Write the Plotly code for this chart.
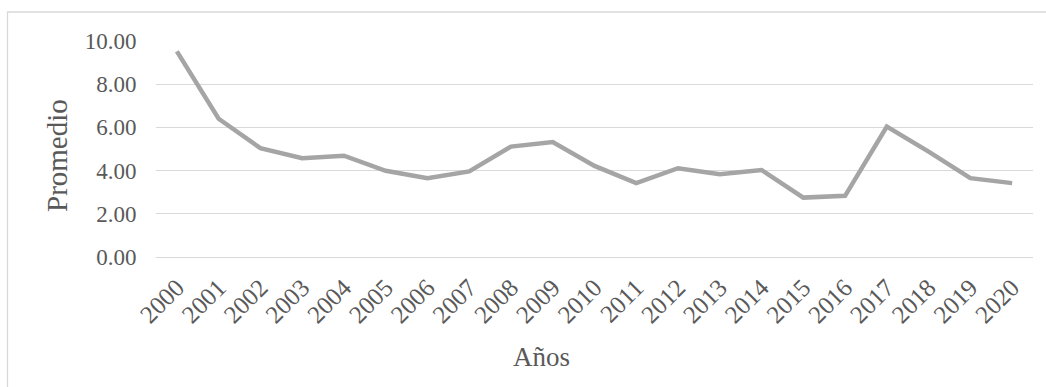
import plotly.graph_objects as go

# Promedio anual, 2000-2020
years = [str(y) for y in range(2000, 2021)]
promedio = [9.52, 6.40, 5.04, 4.57, 4.69, 3.99, 3.65, 3.96, 5.11, 5.32,
            4.22, 3.42, 4.11, 3.83, 4.03, 2.75, 2.83, 6.04, 4.88, 3.65, 3.42]
y_ticks = [0, 2, 4, 6, 8, 10]

W, H = 1046, 387
ML, MR, MT, MB = 156, 13, 41, 130
PW, PH = W - ML - MR, H - MT - MB


def px(x):
    return (x - ML) / PW


def py(y):
    return (H - MB - y) / PH


FONT = "Liberation Serif, Times New Roman, serif"
TXT = "#595959"
GRID = "#D9D9D9"

fig = go.Figure(
    go.Scatter(
        x=years,
        y=promedio,
        mode="lines",
        line=dict(color="#A5A5A5", width=4.5),
        hoverinfo="x+y",
    )
)

fig.update_layout(
    width=W,
    height=H,
    margin=dict(l=ML, r=MR, t=MT, b=MB),
    paper_bgcolor="white",
    plot_bgcolor="white",
    showlegend=False,
    font=dict(family=FONT, color=TXT),
    xaxis=dict(
        type="category",
        range=[-0.5, len(years) - 0.5],
        tickangle=-45,
        tickfont=dict(size=25, family=FONT, color=TXT),
        showgrid=False,
        showline=False,
        zeroline=False,
        ticks="outside",
        ticklen=5,
        tickcolor="rgba(0,0,0,0)",
    ),
    yaxis=dict(
        range=[0, 10],
        tickvals=y_ticks,
        tickformat=".2f",
        tickfont=dict(size=23, family=FONT, color=TXT),
        showgrid=True,
        gridcolor=GRID,
        gridwidth=1.3,
        zeroline=True,
        zerolinecolor=GRID,
        zerolinewidth=1.3,
        showline=False,
        ticks="outside",
        ticklen=14,
        tickcolor="rgba(0,0,0,0)",
    ),
    annotations=[
        dict(
            text="Promedio",
            xref="paper", yref="paper",
            x=px(57), y=py(156),
            xanchor="center", yanchor="middle",
            textangle=-90,
            showarrow=False,
            font=dict(size=29, family=FONT, color=TXT),
        ),
        dict(
            text="Años",
            xref="paper", yref="paper",
            x=px(541), y=py(357),
            xanchor="center", yanchor="middle",
            showarrow=False,
            font=dict(size=27, family=FONT, color=TXT),
        ),
    ],
    shapes=[
        dict(
            type="rect",
            xref="paper", yref="paper",
            x0=px(7.5), y0=py(H + 5), x1=px(W + 5), y1=py(12),
            line=dict(color=GRID, width=1.3),
            fillcolor="rgba(0,0,0,0)",
            layer="below",
        )
    ],
)

fig.write_html("out.html")
